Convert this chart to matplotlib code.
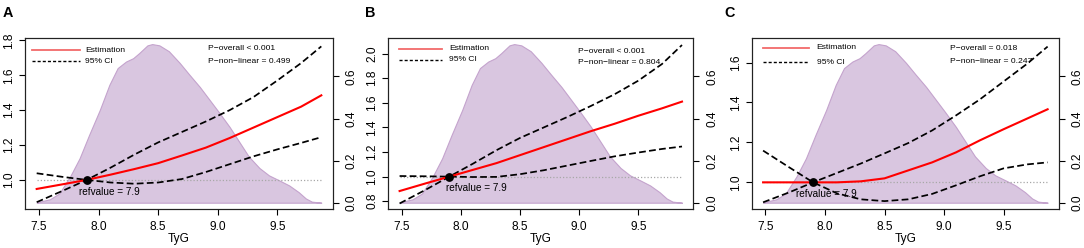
import matplotlib
matplotlib.use('Agg')
import matplotlib.pyplot as plt

plt.rcParams['font.family'] = ['Liberation Sans', 'DejaVu Sans']

# ---------------- data ----------------
tyg = [7.48, 7.7, 7.9, 8.1, 8.3, 8.5, 8.7, 8.9, 9.1, 9.3, 9.5, 9.7, 9.87]

est_A = [0.948, 0.975, 1.0, 1.03, 1.062, 1.096, 1.14, 1.185, 1.24, 1.30, 1.36, 1.42, 1.485]
up_A = [0.872, 0.938, 1.0, 1.07, 1.145, 1.215, 1.275, 1.335, 1.40, 1.475, 1.57, 1.67, 1.766]
lo_A = [1.038, 1.017, 1.0, 0.985, 0.978, 0.985, 1.005, 1.045, 1.09, 1.135, 1.175, 1.212, 1.245]

est_B = [0.883, 0.945, 1.0, 1.055, 1.11, 1.175, 1.24, 1.305, 1.37, 1.43, 1.495, 1.555, 1.61]
up_B = [0.782, 0.893, 1.0, 1.105, 1.215, 1.315, 1.40, 1.485, 1.575, 1.67, 1.78, 1.915, 2.07]
lo_B = [1.005, 1.003, 1.0, 0.997, 0.998, 1.02, 1.052, 1.09, 1.128, 1.165, 1.196, 1.225, 1.245]

est_C = [1.0, 1.0, 1.0, 1.0, 1.005, 1.02, 1.06, 1.10, 1.15, 1.21, 1.266, 1.32, 1.366]
up_C = [0.90, 0.95, 1.0, 1.047, 1.094, 1.145, 1.197, 1.26, 1.335, 1.415, 1.505, 1.595, 1.68]
lo_C = [1.159, 1.075, 1.0, 0.945, 0.915, 0.906, 0.915, 0.942, 0.985, 1.03, 1.07, 1.09, 1.10]

dens_x = [7.48, 7.505, 7.59, 7.67, 7.76, 7.84, 7.92, 8.01, 8.09, 8.16, 8.23, 8.29, 8.34,
          8.41, 8.45, 8.51, 8.59, 8.68, 8.76, 8.85, 8.93, 9.01, 9.10, 9.18, 9.26, 9.35,
          9.43, 9.52, 9.60, 9.68, 9.74, 9.79, 9.87]
dens_y = [0.0, 0.005, 0.016, 0.044, 0.124, 0.211, 0.322, 0.441, 0.560, 0.640, 0.671, 0.687, 0.711,
          0.748, 0.754, 0.748, 0.72, 0.665, 0.61, 0.55, 0.49, 0.43, 0.36, 0.29, 0.22, 0.165,
          0.13, 0.105, 0.082, 0.05, 0.02, 0.005, 0.0]

ref_value = 7.9
panel_labels = ['A', 'B', 'C']
p_overall = ['P\u2212overall < 0.001', 'P\u2212overall < 0.001', 'P\u2212overall = 0.018']
p_nonlin = ['P\u2212non\u2212linear = 0.499', 'P\u2212non\u2212linear = 0.804', 'P\u2212non\u2212linear = 0.247']
x_ticks = [7.5, 8.0, 8.5, 9.0, 9.5]
y_ticks_A = [1.0, 1.2, 1.4, 1.6, 1.8]
y_ticks_B = [0.8, 1.0, 1.2, 1.4, 1.6, 1.8, 2.0]
y_ticks_C = [1.0, 1.2, 1.4, 1.6]
dens_ticks = [0.0, 0.2, 0.4, 0.6]

# ---------------- layout ----------------
W, H = 1084, 248
fig = plt.figure(figsize=(W / 100, H / 100), dpi=100)

layout = [
    dict(left=25.3, right=332.7, ylim=(0.833, 1.814), lab_x=2.5,
         leg=(0.022, 0.178, 0.194, 0.927, 0.863), ptxt=(0.594, 0.941, 0.863),
         ref_txt=(8.094, -11.7)),
    dict(left=388.3, right=693.3, ylim=(0.737, 2.127), lab_x=365,
         leg=(0.036, 0.175, 0.200, 0.938, 0.874), ptxt=(0.621, 0.922, 0.856),
         ref_txt=(8.13, -11.0)),
    dict(left=751.7, right=1059.0, ylim=(0.8665, 1.723), lab_x=724,
         leg=(0.036, 0.187, 0.211, 0.942, 0.858), ptxt=(0.645, 0.936, 0.862),
         ref_txt=(8.01, -11.7)),
]
series = [(est_A, lo_A, up_A, y_ticks_A), (est_B, lo_B, up_B, y_ticks_B), (est_C, lo_C, up_C, y_ticks_C)]

top_px, bot_px = 38.0, 209.0
fill_col = '#D9C6E0'
edge_col = '#C4A3CD'
fs_tick = 8.6

for i, (lay, (est, lo, up, yt)) in enumerate(zip(layout, series)):
    pos = [lay['left'] / W, 1 - bot_px / H, (lay['right'] - lay['left']) / W, (bot_px - top_px) / H]
    ax = fig.add_axes(pos)
    axd = ax.twinx()
    ax.set_zorder(axd.get_zorder() + 1)
    ax.patch.set_visible(False)

    # density
    axd.fill_between(dens_x, 0, dens_y, facecolor=fill_col, edgecolor=edge_col, linewidth=0.8)
    axd.set_ylim(-0.030, 0.783)
    axd.set_yticks(dens_ticks)
    axd.set_yticklabels(['%.1f' % v for v in dens_ticks])
    axd.tick_params(axis='y', direction='out', length=4.3, width=0.8, pad=5,
                    labelsize=fs_tick, labelrotation=90)
    for t in axd.get_yticklabels():
        t.set_va('center')

    # curves
    ax.plot([tyg[0], tyg[-1]], [1, 1], color='#A8A8A8', lw=0.9, ls=(0, (1, 1.6)), zorder=2)
    ax.plot(tyg, up, color='black', lw=1.25, ls=(0, (3.9, 1.9)), zorder=4)
    ax.plot(tyg, lo, color='black', lw=1.25, ls=(0, (3.9, 1.9)), zorder=4)
    ax.plot(tyg, est, color='#FF0000', lw=1.5, zorder=5)
    ax.plot([ref_value], [1.0], 'o', color='black', ms=5.3, zorder=6)

    ax.set_xlim(7.3844, 9.9656)
    ax.set_ylim(*lay['ylim'])
    ax.set_xticks(x_ticks)
    ax.set_xticklabels(['%.1f' % v for v in x_ticks])
    ax.set_yticks(yt)
    ax.set_yticklabels(['%.1f' % v for v in yt])
    ax.tick_params(axis='x', direction='out', length=4.3, width=0.8, pad=4.3, labelsize=fs_tick)
    ax.tick_params(axis='y', direction='out', length=4.3, width=0.8, pad=3,
                   labelsize=fs_tick, labelrotation=90)
    for t in ax.get_yticklabels():
        t.set_va('center')
    for a in (ax, axd):
        for s in a.spines.values():
            s.set_linewidth(0.8)
            s.set_color('#222222')

    ax.text(0.5, -0.176, 'TyG', transform=ax.transAxes, ha='center', va='center', fontsize=fs_tick)

    # reference value label (offset in points below the point)
    rx, roff = lay['ref_txt']
    ax.annotate('refvalue = 7.9', xy=(rx, 1.0), xytext=(0, roff * 0.72), textcoords='offset points',
                ha='center', va='center', fontsize=7.2, zorder=3)

    # legend
    x0, x1, xt, yr, yd = lay['leg']
    ax.plot([x0, x1], [yr, yr], transform=ax.transAxes, color='#F26A6A', lw=1.3, zorder=7)
    ax.plot([x0, x1], [yd, yd], transform=ax.transAxes, color='black', lw=1.0,
            ls=(0, (2.2, 1.5)), zorder=7)
    ax.text(xt, yr, 'Estimation', transform=ax.transAxes, ha='left', va='center', fontsize=6.1)
    ax.text(xt, yd, '95% CI', transform=ax.transAxes, ha='left', va='center', fontsize=6.1)

    px, py1, py2 = lay['ptxt']
    ax.text(px, py1, p_overall[i], transform=ax.transAxes, ha='left', va='center', fontsize=6.1)
    ax.text(px, py2, p_nonlin[i], transform=ax.transAxes, ha='left', va='center', fontsize=6.1)

    fig.text(lay['lab_x'] / W, 1 - 17.3 / H, panel_labels[i], fontsize=10.4, fontweight='bold',
             ha='left', va='baseline')

fig.savefig('out.png', dpi=100)
